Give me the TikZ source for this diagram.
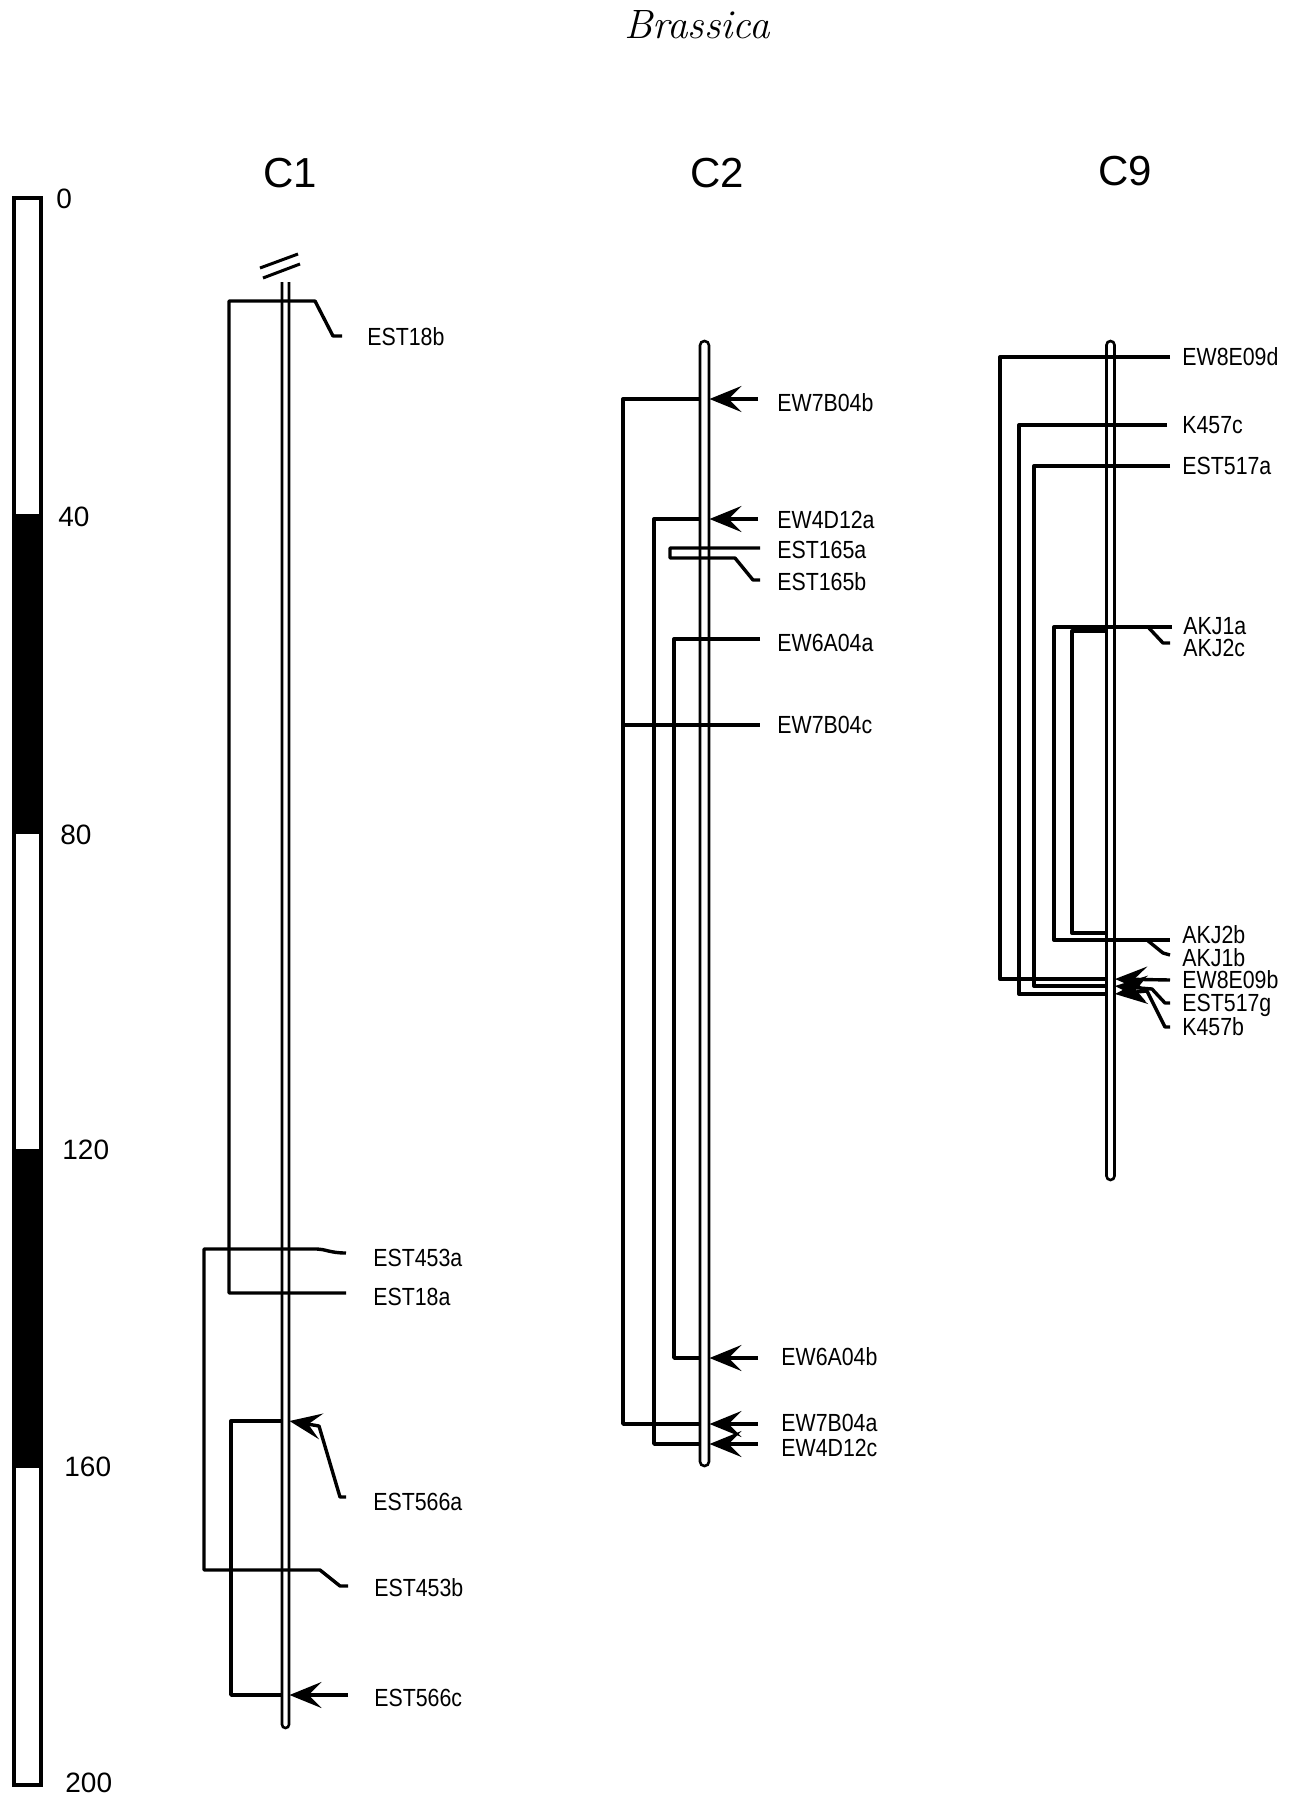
\documentclass[tikz,border=0pt]{standalone}
\usepackage{fontspec}
\newfontfamily\labfont[FakeStretch=0.86]{Liberation Sans}
\newfontfamily\numfont{Liberation Sans}
\usetikzlibrary{arrows.meta}
\begin{document}
\begin{tikzpicture}[x=0.5pt,y=-0.5pt,
  conn/.style={line width=1.7pt, line join=round},
  rod/.style={line width=1.3pt},
  mk/.style={conn,-{Stealth[length=16pt,width=13pt,inset=6.5pt]}},
  lab/.style={font=\labfont\fontsize{12.4pt}{12.4pt}\selectfont,inner sep=0pt,anchor=west,text height=8.9pt,text depth=0pt},
  num/.style={font=\numfont\fontsize{14pt}{14pt}\selectfont,inner sep=0pt,anchor=west,text height=10pt,text depth=0pt},
  chrom/.style={font=\numfont\fontsize{21pt}{21pt}\selectfont,inner sep=0pt,text height=15pt,text depth=0pt}]
\useasboundingbox (0,0) rectangle (1289,1800);

% title
\node[font=\fontsize{20.5pt}{20.5pt}\selectfont\itshape,inner sep=0pt,text height=14pt,text depth=0pt] (title) at (697,24) {Brassica};
\node[chrom] (tC1) at (290,172) {C1};
\node[chrom] (tC2) at (717,172) {C2};
\node[chrom] (tC9) at (1125,170) {C9};

% scale bar
\fill (14,514) rectangle (41,834);
\fill (14,1149) rectangle (41,1468);
\draw[line width=1.7pt] (14,198) rectangle (41,1785);
\node[num] (s0) at (56,198) {0};
\node[num] (s40) at (58,516) {40};
\node[num] (s80) at (60,834) {80};
\node[num] (s120) at (62,1149) {120};
\node[num] (s160) at (64,1466) {160};
\node[num] (s200) at (65,1782) {200};

% ---------------- C1
\draw[rod, rounded corners=1.75pt] (282,282) -- (282,1728) -- (289,1728) -- (289,282);
\draw[line width=1.5pt] (260,268) -- (298,254);
\draw[line width=1.5pt] (263,278) -- (300,264);

\node[lab] (EST18b) at (367,337) {EST18b};
\node[lab] (EST453a) at (373,1258) {EST453a};
\node[lab] (EST18a) at (373,1297) {EST18a};
\node[lab] (EST566a) at (373,1502) {EST566a};
\node[lab] (EST453b) at (374,1588) {EST453b};
\node[lab] (EST566c) at (374,1698) {EST566c};

\draw[conn] (342,336) -- (333,336) -- (315,301) -- (229,301) -- (229,1293) -- (346,1293);
\draw[conn] (346,1253) .. controls (330,1253) and (325,1249) .. (317,1249) -- (204,1249) -- (204,1570) -- (320,1570) -- (340,1586) -- (348,1586);
\draw[conn] (282,1421) -- (231,1421) -- (231,1695) -- (282,1695);
\draw[mk] (348,1695) -- (289.5,1695);
\draw[mk] (346,1497) -- (340,1497) -- (319,1426) -- (289.5,1421);

% ---------------- C2
\draw[rod, rounded corners=2.2pt] (700,341) rectangle (709,1466);

\node[lab] (EW7B04b) at (777,403) {EW7B04b};
\node[lab] (EW4D12a) at (777,520) {EW4D12a};
\node[lab] (EST165a) at (777,550) {EST165a};
\node[lab] (EST165b) at (777,582) {EST165b};
\node[lab] (EW6A04a) at (777,643) {EW6A04a};
\node[lab] (EW7B04c) at (777,725) {EW7B04c};
\node[lab] (EW6A04b) at (781,1357) {EW6A04b};
\node[lab] (EW7B04a) at (781,1423) {EW7B04a};
\node[lab] (EW4D12c) at (781,1448) {EW4D12c};

\draw[conn] (700,399) -- (623,399) -- (623,1424) -- (700,1424);
\draw[conn] (700,519) -- (654,519) -- (654,1444) -- (700,1444);
\draw[conn] (760,548) -- (670,548) -- (670,558) -- (735,558) -- (753,580) -- (760,580);
\draw[conn] (760,639) -- (674,639) -- (674,1358) -- (700,1358);
\draw[conn] (623,725) -- (760,725);
\draw[mk] (758,399) -- (709.5,399);
\draw[mk] (758,519) -- (709.5,519);
\draw[mk] (758,1358) -- (709.5,1358);
\draw[mk] (758,1424) -- (709.5,1424);
\draw[mk] (758,1444) -- (709.5,1444);

% ---------------- C9
\draw[rod, rounded corners=2pt] (1106.5,341) rectangle (1114.5,1180);

\node[lab] (EW8E09d) at (1182,357) {EW8E09d};
\node[lab] (K457c) at (1182,425) {K457c};
\node[lab] (EST517a) at (1182,466) {EST517a};
\node[lab] (AKJ1a) at (1183,626) {AKJ1a};
\node[lab] (AKJ2c) at (1183,648) {AKJ2c};
\node[lab] (AKJ2b) at (1182,935) {AKJ2b};
\node[lab] (AKJ1b) at (1182,958) {AKJ1b};
\node[lab] (EW8E09b) at (1182,980) {EW8E09b};
\node[lab] (EST517g) at (1182,1003) {EST517g};
\node[lab] (K457b) at (1182,1027) {K457b};

\draw[conn] (1170,357) -- (1000,357) -- (1000,979) -- (1106,979);
\draw[conn] (1167,425) -- (1019,425) -- (1019,994) -- (1106,994);
\draw[conn] (1170,466) -- (1034,466) -- (1034,986) -- (1106,986);
\draw[conn] (1172,627) -- (1054,627) -- (1054,940) -- (1170,940);
\draw[conn] (1148,627) -- (1163,643) -- (1170,643);
\draw[conn] (1107,631) -- (1072,631) -- (1072,933) -- (1107,933);
\draw[conn] (1147,940) -- (1163,953) -- (1170,955);
\draw[mk] (1170,980) -- (1115,979);
\draw[mk] (1170,1003) -- (1165,1003) -- (1152,989) -- (1115,986);
\draw[mk] (1170,1027) -- (1165,1027) -- (1147,991) -- (1115,994);
\end{tikzpicture}
\end{document}
